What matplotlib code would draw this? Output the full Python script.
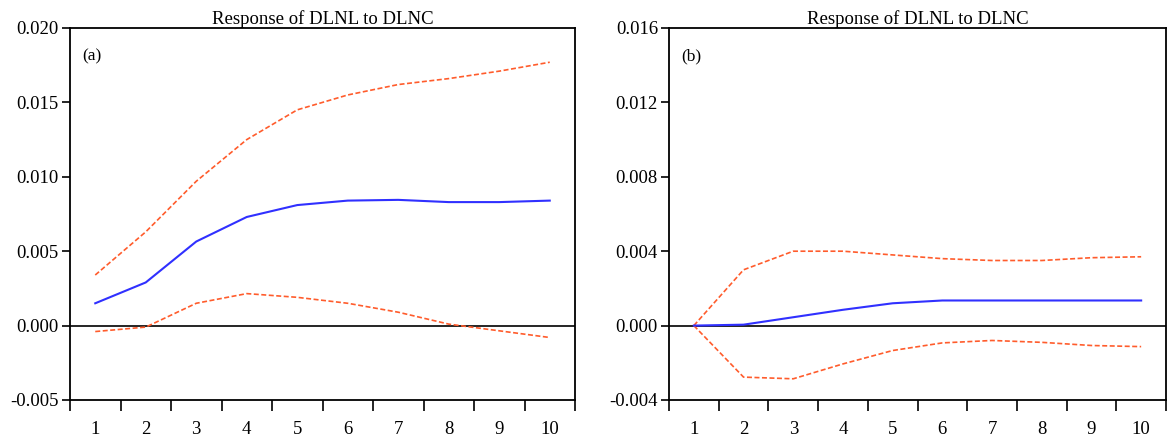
import numpy as np
import matplotlib
matplotlib.use('Agg')
import matplotlib.pyplot as plt
from matplotlib.ticker import FixedLocator, FuncFormatter, NullFormatter

plt.rcParams['font.family'] = ['Liberation Serif', 'DejaVu Serif']
plt.rcParams['axes.unicode_minus'] = False

periods = np.arange(1, 11)

# panel (a)
a_resp = [0.0015, 0.0029, 0.00565, 0.0073, 0.0081, 0.0084, 0.00845, 0.0083, 0.0083, 0.0084]
a_upper = [0.0034, 0.0063, 0.0097, 0.0125, 0.0145, 0.0155, 0.0162, 0.0166, 0.0171, 0.0177]
a_lower = [-0.0004, -0.0001, 0.0015, 0.00215, 0.0019, 0.0015, 0.0009, 0.0001, -0.00035, -0.0008]

# panel (b)
b_resp = [0.0, 0.00005, 0.00045, 0.00085, 0.0012, 0.00135, 0.00135, 0.00135, 0.00135, 0.00135]
b_upper = [0.0, 0.0030, 0.0040, 0.0040, 0.0038, 0.0036, 0.0035, 0.0035, 0.00365, 0.0037]
b_lower = [0.0, -0.00277, -0.00286, -0.00206, -0.00134, -0.00093, -0.0008, -0.0009, -0.00107, -0.00113]

title = 'Response of DLNL to DLNC'
blue = '#3030ff'
orange = '#ff5c2c'

fig = plt.figure(figsize=(11.67, 4.37), dpi=100)
W, H = 1167.0, 437.0
ax_a = fig.add_axes([70 / W, 1 - 400 / H, 505 / W, 372 / H])
ax_b = fig.add_axes([669 / W, 1 - 400 / H, 497 / W, 372 / H])

panels = [
    (ax_a, a_resp, a_upper, a_lower, (-0.005, 0.020), np.arange(-0.005, 0.0201, 0.005), '(a)'),
    (ax_b, b_resp, b_upper, b_lower, (-0.004, 0.016), np.arange(-0.004, 0.0161, 0.004), '(b)'),
]

for ax, resp, up, lo, ylim, yt, tag in panels:
    ax.axhline(0, color='black', lw=1.2, zorder=1)
    ax.plot(periods, up, color=orange, lw=1.2, ls=(0, (3, 1.5)), zorder=2)
    ax.plot(periods, lo, color=orange, lw=1.2, ls=(0, (3, 1.5)), zorder=2)
    ax.plot(periods, resp, color=blue, lw=1.5, zorder=3)
    ax.set_xlim(0.5, 10.5)
    ax.set_ylim(*ylim)
    ax.set_yticks(yt)
    ax.yaxis.set_major_formatter(FuncFormatter(lambda v, p: '%.3f' % v))
    # ticks sit between periods, labels at the period centres
    ax.xaxis.set_major_locator(FixedLocator(np.arange(0.5, 10.6, 1)))
    ax.xaxis.set_major_formatter(NullFormatter())
    ax.xaxis.set_minor_locator(FixedLocator(periods))
    ax.xaxis.set_minor_formatter(FuncFormatter(lambda v, p: '%d' % v))
    ax.tick_params(axis='x', which='major', direction='out', length=8, width=1.2)
    ax.tick_params(axis='x', which='minor', length=0, pad=15, labelsize=13.5)
    ax.tick_params(axis='y', direction='out', length=6, width=1.2, labelsize=13.5, pad=2)
    for s in ax.spines.values():
        s.set_linewidth(1.3)
    ax.set_title(title, fontsize=13.5, pad=3)
    ax.text(0.025, 0.925, tag, transform=ax.transAxes, fontsize=12.5, va='center', ha='left')

fig.savefig('out.png', dpi=100)
